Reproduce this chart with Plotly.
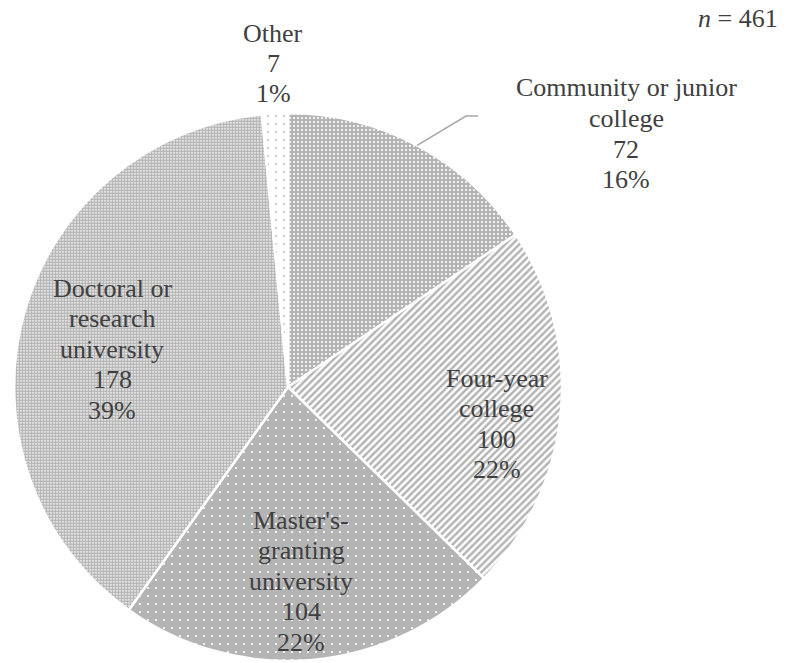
import math
import plotly.graph_objects as go

# ---- data ----
categories = ["Community or junior college", "Four-year college",
              "Master's-granting university", "Doctoral or research university", "Other"]
values = [72, 100, 104, 178, 7]
percents = [16, 22, 22, 39, 1]           # as printed in the source
label_lines = [["Community or junior", "college"],
               ["Four-year", "college"],
               ["Master's-", "granting", "university"],
               ["Doctoral or", "research", "university"],
               ["Other"]]
n_total = 461

# ---- layout constants ----
W, H = 786, 663
CX, CY, R = 288, 387, 274
GREY = "#b4b4b4"
TXT = "#404040"
FONT = "Liberation Serif"
FS = 26
LINE = 30.5

patterns = [
    dict(shape=".", fgcolor="white", bgcolor=GREY, size=4, solidity=0.22),
    dict(shape="/", fgcolor=GREY, bgcolor="white", size=5, solidity=0.5),
    dict(shape=".", fgcolor="white", bgcolor=GREY, size=8, solidity=0.06),
    dict(shape=".", fgcolor=GREY, bgcolor="white", size=3, solidity=0.75),
    dict(shape=".", fgcolor=GREY, bgcolor="white", size=8, solidity=0.04),
]

fig = go.Figure(go.Pie(
    labels=categories, values=values, sort=False, direction="clockwise",
    rotation=0, textinfo="none", hoverinfo="label+value+percent",
    marker=dict(colors=["white"] * 5,
                line=dict(color="white", width=2.5),
                pattern=dict(shape=[p["shape"] for p in patterns],
                             fgcolor=[p["fgcolor"] for p in patterns],
                             bgcolor=[p["bgcolor"] for p in patterns],
                             size=[p["size"] for p in patterns],
                             solidity=[p["solidity"] for p in patterns],
                             fillmode="replace")),
    domain=dict(x=[(CX - R) / W, (CX + R) / W], y=[1 - (CY + R) / H, 1 - (CY - R) / H]),
    showlegend=False,
))

def px(x):
    return x / W

def py(y):
    return 1 - y / H

# label centres (pixels): x centre, y of first line
label_pos = [(626, 88), (497, 378), (301, 520), (112, 288), (273, 33)]

annotations = []
for lines, v, p, (lx, ly) in zip(label_lines, values, percents, label_pos):
    allines = lines + [str(v), f"{p}%"]
    for i, t in enumerate(allines):
        annotations.append(dict(x=px(lx), y=py(ly + i * LINE), xref="paper", yref="paper",
                                text=t, showarrow=False, xanchor="center", yanchor="middle",
                                font=dict(family=FONT, size=FS, color=TXT)))

annotations.append(dict(x=px(780), y=py(18), xref="paper", yref="paper",
                        text=f"<i>n</i> = {n_total}", showarrow=False,
                        xanchor="right", yanchor="middle",
                        font=dict(family=FONT, size=FS, color=TXT)))

# leader line for the first (outside-labelled) slice, from its mid-angle
mid = (values[0] / sum(values)) * 360 / 2
a = math.radians(mid)
sx, sy = CX + R * math.sin(a), CY - R * math.cos(a)
path = f"M {px(sx)} {py(sy)} L {px(466)} {py(116)} L {px(478)} {py(116)}"

fig.update_layout(
    width=W, height=H, margin=dict(l=0, r=0, t=0, b=0),
    paper_bgcolor="white", plot_bgcolor="white",
    annotations=annotations,
    shapes=[dict(type="path", xref="paper", yref="paper", path=path,
                 line=dict(color="#a6a6a6", width=1.5))],
)

fig.write_html("out.html")
